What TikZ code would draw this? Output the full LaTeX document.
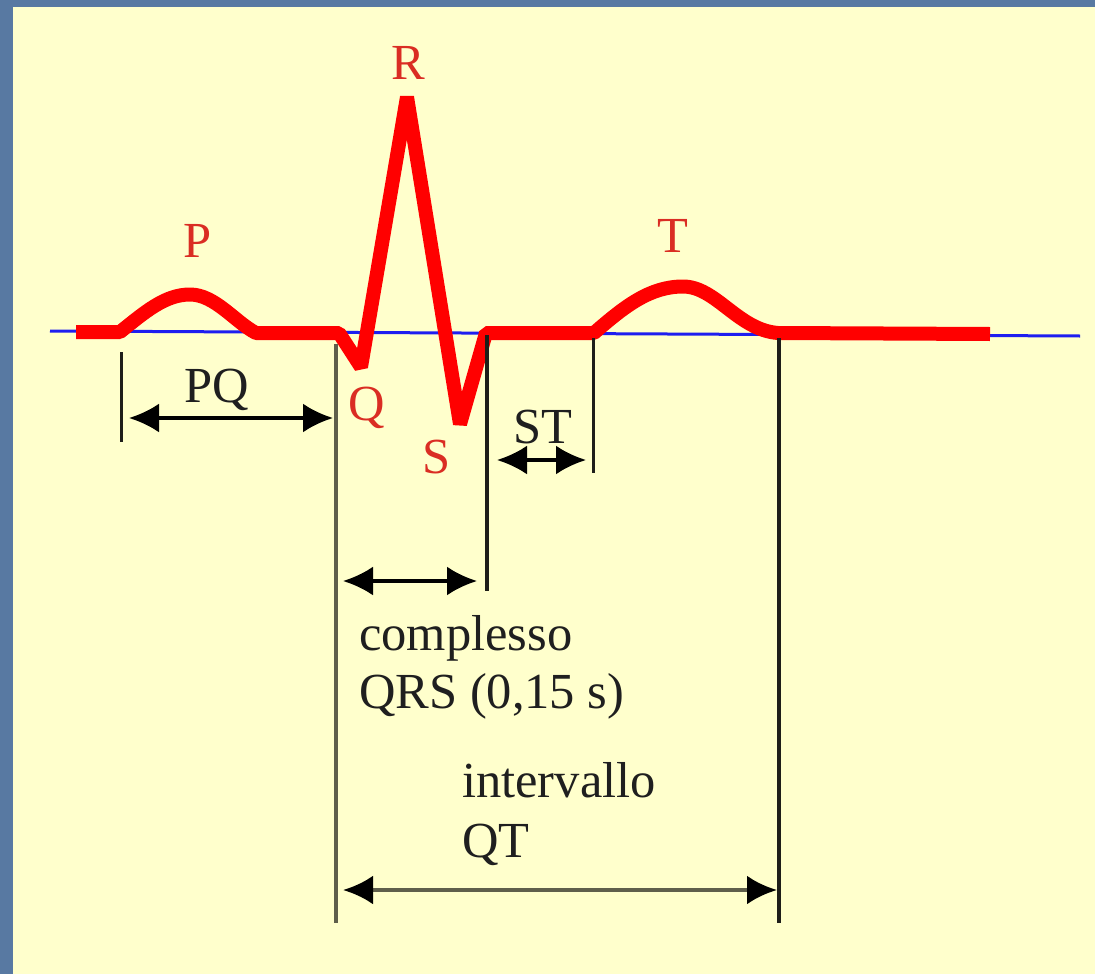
\documentclass[tikz,border=0pt]{standalone}
\usepackage{fontspec}
\setmainfont{Liberation Serif}
\usetikzlibrary{arrows.meta}
\definecolor{bgblue}{RGB}{88,121,162}
\definecolor{paper}{RGB}{255,255,204}
\definecolor{ecgred}{RGB}{255,0,0}
\definecolor{lblred}{RGB}{218,45,35}
\definecolor{axisblue}{RGB}{30,30,240}
\definecolor{tickdark}{RGB}{30,30,25}
\definecolor{tickgray}{RGB}{95,95,75}
\begin{document}
\begin{tikzpicture}[x=1pt,y=-1pt,
  lbl/.style={inner sep=0pt, anchor=base, font=\fontsize{50.5}{58}\selectfont},
  redlbl/.style={lbl, text=lblred},
  txt/.style={inner sep=0pt, anchor=base west, font=\fontsize{50.5}{58}\selectfont, text=black!88},
  tickline/.style={line width=3pt, draw=tickdark},
  tickgrey/.style={line width=4pt, draw=tickgray},
  dimarrow/.style={line width=3.5pt, draw=black, {Latex[length=30pt,width=29pt,black]}-{Latex[length=30pt,width=29pt,black]}},
]
\useasboundingbox (0,0) rectangle (1095,974);
\fill[bgblue] (0,0) rectangle (1095,974);
\fill[paper] (13,7) rectangle (1095,974);

% baseline
\coordinate (ax0) at (50,331);
\coordinate (ax1) at (1080,336);
\draw[axisblue, line width=3pt] (ax0) -- (ax1);

% ECG trace
\draw[ecgred, line width=14pt, line join=bevel]
  (76,332) -- (120,332)
  .. controls (145,312) and (165,294.5) .. (190,294.5)
  .. controls (215,294.5) and (235,322) .. (256,333)
  -- (339,333) -- (361,367) -- (407,97) -- (460,424) -- (486,333) -- (594,333)
  .. controls (625,306) and (650,286.5) .. (683,286.5)
  .. controls (716,286.5) and (738,330) .. (778,333)
  -- (990,334);

% vertical marker lines
\coordinate (v1t) at (121,352); \coordinate (v1b) at (121,442);
\coordinate (v2t) at (336,344); \coordinate (v2b) at (336,923);
\coordinate (v3t) at (487,335); \coordinate (v3b) at (487,591);
\coordinate (v4t) at (593,338); \coordinate (v4b) at (593,473);
\coordinate (v5t) at (779,338); \coordinate (v5b) at (779,923);
\draw[tickline] (v1t) -- (v1b);
\draw[tickgrey] (v2t) -- (v2b);
\draw[tickline, line width=3.5pt] (v3t) -- (v3b);
\draw[tickline] (v4t) -- (v4b);
\draw[tickline, line width=4pt] (v5t) -- (v5b);

% dimension arrows
\coordinate (pq0) at (129,418); \coordinate (pq1) at (333,418);
\coordinate (st0) at (497,460); \coordinate (st1) at (586,460);
\coordinate (qrs0) at (343,581); \coordinate (qrs1) at (477,581);
\coordinate (qt0) at (343,890); \coordinate (qt1) at (777,890);
\draw[dimarrow] (pq0) -- (pq1);
\draw[dimarrow] (st0) -- (st1);
\draw[dimarrow] (qrs0) -- (qrs1);
\draw[dimarrow, draw=tickgray, line width=4.5pt] (qt0) -- (qt1);

% wave labels
\node[redlbl] (P) at (198,257) {P};
\node[redlbl] (R) at (408,79) {R};
\node[redlbl] (T) at (673,252) {T};
\node[redlbl] (Q) at (367,420) {Q};
\node[redlbl] (S) at (437,473) {S};

% interval labels
\node[lbl, text=black!88] (PQ) at (217,402) {PQ};
\node[lbl, text=black!88] (ST) at (543,443) {ST};
\node[txt] (cmp1) at (359,650) {complesso};
\node[txt] (cmp2) at (359,708) {QRS (0,15 s)};
\node[txt] (int1) at (462,797) {intervallo};
\node[txt] (int2) at (462,857) {QT};
\end{tikzpicture}
\end{document}
